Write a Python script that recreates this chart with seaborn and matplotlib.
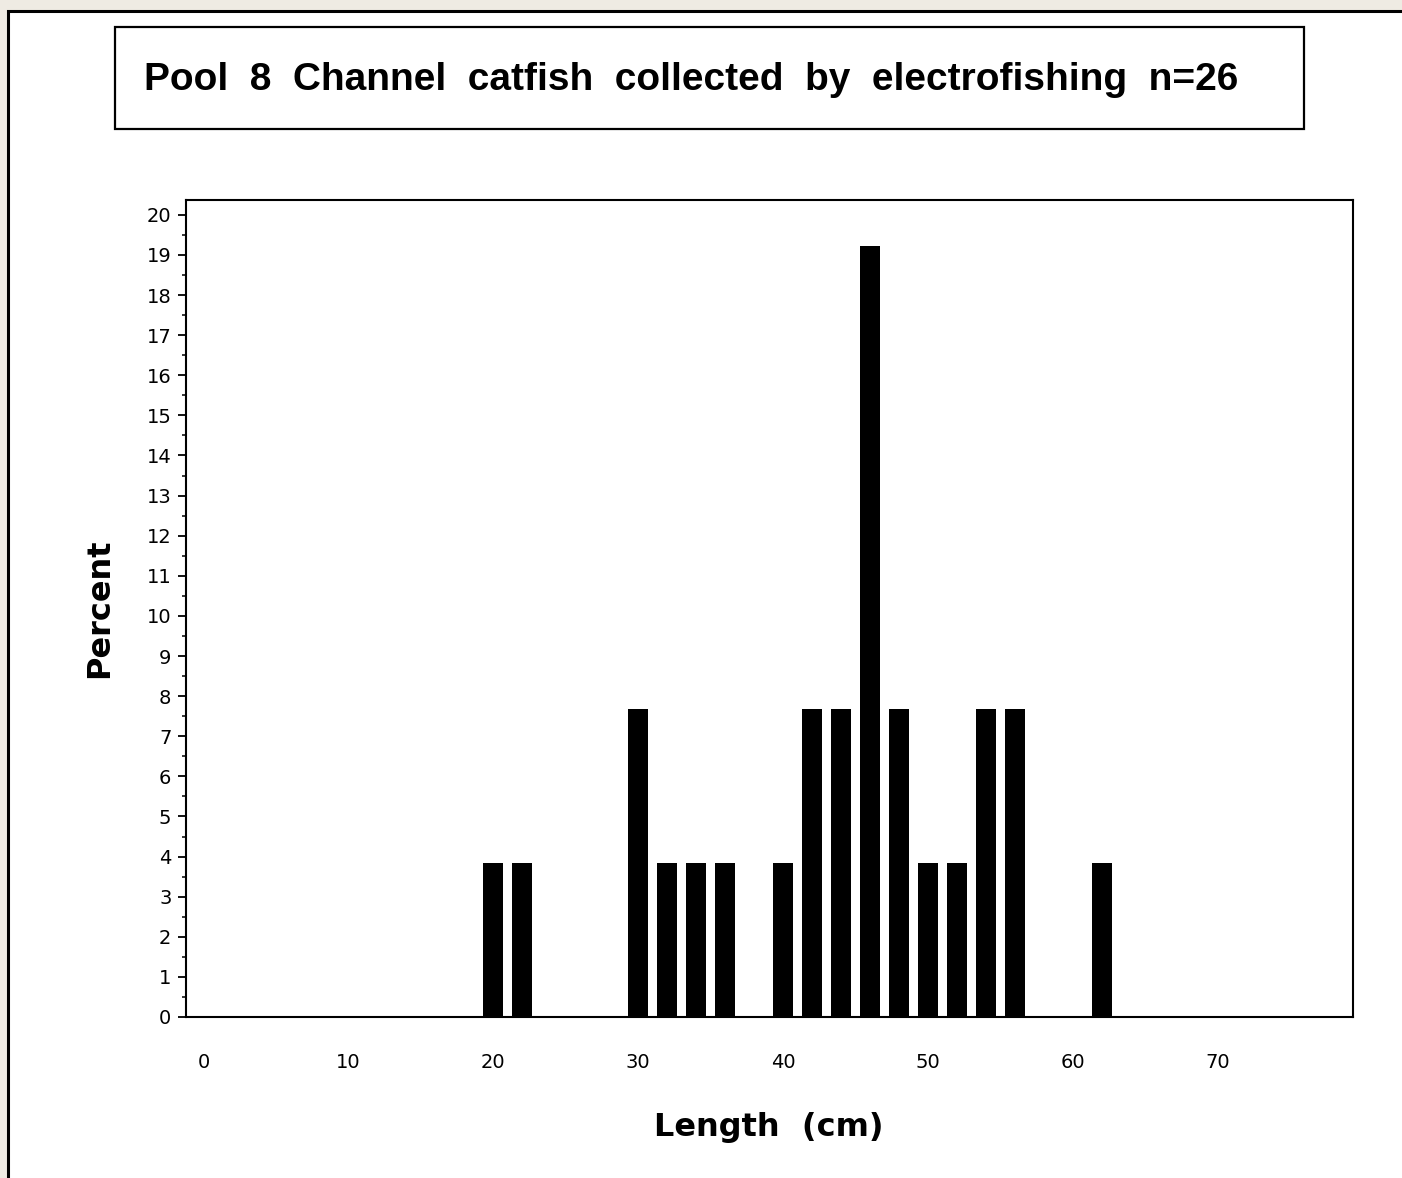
import matplotlib
matplotlib.use("Agg")
import matplotlib.pyplot as plt
from matplotlib.patches import Rectangle
from matplotlib.ticker import MultipleLocator
import seaborn as sns
import pandas as pd

# ---- data ----
lengths = [20, 22, 30, 32, 34, 36, 40, 42, 44, 46, 48, 50, 52, 54, 56, 62]
percent = [3.85, 3.85, 7.69, 3.85, 3.85, 3.85, 3.85, 7.69, 7.69, 19.23,
           7.69, 3.85, 3.85, 7.69, 7.69, 3.85]
x_ticks = [0, 10, 20, 30, 40, 50, 60, 70]
y_ticks = list(range(0, 21))
title_text = "Pool  8  Channel  catfish  collected  by  electrofishing  n=26"
x_label = "Length  (cm)"
y_label = "Percent"

sns.set_theme(style="white")
plt.rcParams['font.family'] = ['DejaVu Sans']
plt.rcParams['text.color'] = 'black'
plt.rcParams['axes.labelcolor'] = 'black'

W, H = 1402, 1178
fig = plt.figure(figsize=(W / 100, H / 100), dpi=100)
fig.patch.set_facecolor("#efebe3")

# white page with black outer frame (left and top visible)
page = Rectangle((8 / W, -0.01), 1.01 - 8 / W, 1 - 11 / H + 0.01,
                 transform=fig.transFigure, facecolor="white",
                 edgecolor="black", linewidth=2.2, zorder=-10)
fig.patches.append(page)

# title box
bx0, bx1 = 115 / W, 1304 / W
by0, by1 = 1 - 129 / H, 1 - 27 / H
tbox = Rectangle((bx0, by0), bx1 - bx0, by1 - by0,
                 transform=fig.transFigure, facecolor="white",
                 edgecolor="black", linewidth=1.6, zorder=-5)
fig.patches.append(tbox)
fig.text(691 / W, 1 - 80 / H, title_text, ha="center", va="center",
         fontsize=28, fontweight="bold", color="black",
         family=['Liberation Sans', 'DejaVu Sans'])

ax = fig.add_axes([186 / W, 161 / H, (1353 - 186) / W, (1017 - 200) / H])
ax.set_facecolor("white")
df = pd.DataFrame({"Length": lengths, "Percent": percent})
sns.barplot(data=df, x="Length", y="Percent", native_scale=True, width=0.69,
            color="black", saturation=1, edgecolor="none", linewidth=0,
            errorbar=None, ax=ax)

ax.set_xlim(-1.2, 79.3)
ax.set_ylim(0, 20.37)
ax.set_xticks(x_ticks)
ax.set_xticklabels([str(v) for v in x_ticks])
ax.set_yticks(y_ticks)
ax.set_yticklabels([str(v) for v in y_ticks])
ax.yaxis.set_minor_locator(MultipleLocator(0.5))

for s in ax.spines.values():
    s.set_visible(True)
    s.set_color("black")
    s.set_linewidth(1.5)

ax.tick_params(axis="x", which="both", length=0, pad=26, labelsize=14,
               colors="black")
ax.tick_params(axis="y", which="major", left=True, length=5.5, width=1.3,
               pad=5, labelsize=14, colors="black")
ax.tick_params(axis="y", which="minor", left=True, length=3, width=1.3)

ax.set_xlabel(x_label, fontsize=23, fontweight="bold", va="center",
              color="black")
ax.set_ylabel(y_label, fontsize=23, fontweight="bold", va="center",
              color="black")
ax.xaxis.set_label_coords(0.4996, -0.135)
ax.yaxis.set_label_coords(-0.074, 0.5)

fig.savefig("out.png", dpi=100, facecolor=fig.get_facecolor())
